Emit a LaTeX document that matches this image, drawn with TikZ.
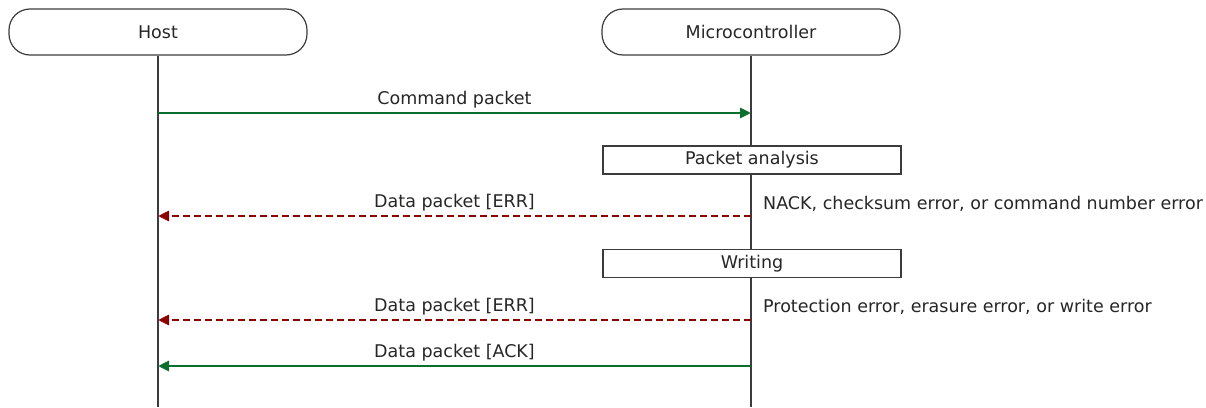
\documentclass[tikz,border=0pt]{standalone}
\usepackage{fontspec}
\setmainfont{DejaVu Sans}
\usetikzlibrary{arrows.meta}
\definecolor{okgreen}{RGB}{10,110,45}
\definecolor{errred}{RGB}{140,0,0}
\definecolor{lifegray}{RGB}{60,60,60}
\newcommand{\diagfont}{\fontsize{17.5}{20}\selectfont}
\tikzset{
  actor/.style={draw=lifegray, line width=1.2pt, rounded corners=21pt,
    minimum width=298pt, minimum height=46pt, inner sep=0pt, font=\diagfont, text=black!85},
  activity/.style={draw=lifegray, line width=1.2pt, fill=white,
    minimum width=298pt, minimum height=28pt, inner sep=0pt, font=\diagfont, text=black!85},
  lifeline/.style={draw=lifegray, line width=1.2pt},
  msg/.style={line width=2.8pt, -{Triangle[length=11pt,width=10pt]}},
  okmsg/.style={msg, draw=okgreen, okgreen},
  errmsg/.style={msg, draw=errred, errred, dash pattern=on 7pt off 4pt},
  lbl/.style={font=\diagfont, text=black!85, inner sep=0pt},
  note/.style={font=\diagfont, text=black!85, inner sep=0pt, anchor=west}
}
\begin{document}
\begin{tikzpicture}[x=1pt,y=-1pt]
\useasboundingbox (0,0) rectangle (1206,407);

% participants
\node[actor] (host) at (158,32) {Host};
\node[actor] (mcu) at (751,32) {Microcontroller};

% lifelines
\coordinate (hostend) at (158,407);
\coordinate (mcuend) at (751,407);
\draw[lifeline] (host.south) -- (hostend);
\draw[lifeline] (mcu.south) -- (mcuend);

% message anchors on the lifelines
\coordinate (h1) at (158,113);
\coordinate (m1) at (751,113);
\coordinate (h2) at (158,216);
\coordinate (m2) at (751,216);
\coordinate (h3) at (158,320);
\coordinate (m3) at (751,320);
\coordinate (h4) at (158,366);
\coordinate (m4) at (751,366);

% activities on the microcontroller
\node[activity] (analysis) at (752,160) {Packet analysis};
\node[activity] (writing) at (752,263.5) {Writing};

% messages
\draw[okmsg] (h1) -- (m1);
\node[lbl] (l1) at (454.5,100) {Command packet};

\draw[errmsg] (m2) -- (h2);
\node[lbl] (l2) at (454.5,203) {Data packet [ERR]};
\node[note] (n2) at (763,204) {NACK, checksum error, or command number error};

\draw[errmsg] (m3) -- (h3);
\node[lbl] (l3) at (454.5,307) {Data packet [ERR]};
\node[note] (n3) at (763,307) {Protection error, erasure error, or write error};

\draw[okmsg] (m4) -- (h4);
\node[lbl] (l4) at (454.5,353) {Data packet [ACK]};
\end{tikzpicture}
\end{document}
